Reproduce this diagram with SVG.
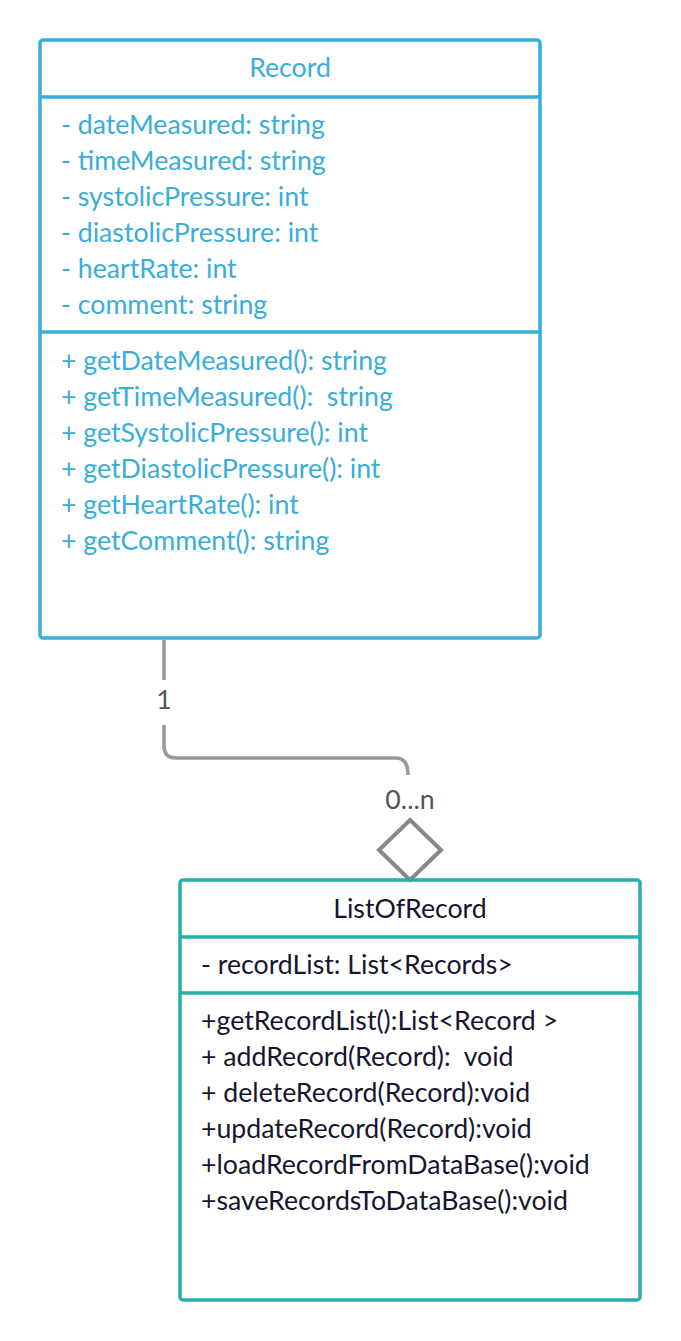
<svg xmlns="http://www.w3.org/2000/svg" width="681" height="1341" viewBox="0 0 681 1341">
<style>
.blue{fill:none;stroke:#3aadd8;stroke-width:3.5}
.teal{fill:none;stroke:#26b0a9;stroke-width:3.5}
.bt{fill:#3aadd8;font-family:Lato,"Liberation Sans",sans-serif;font-size:26.7px;white-space:pre}
.dt{fill:#161630;font-family:Lato,"Liberation Sans",sans-serif;font-size:26.7px;white-space:pre}
.lbl{fill:#555;font-family:Lato,"Liberation Sans",sans-serif;font-size:26.7px}
.conn{fill:none;stroke:#999;stroke-width:3.5}
</style>
<rect width="681" height="1341" fill="#fff"/>
<g id="connectors">
<path class="conn" d="M164,640 V680 M164,725 V746 Q164,758 176,758 H396 Q408,758 408,775"/>
<polygon points="410,820 441,850 410,880 379,850" fill="#fff" stroke="#888" stroke-width="4"/>
<text class="lbl" x="164" y="709" text-anchor="middle">1</text>
<text class="lbl" x="410" y="809" text-anchor="middle">0...n</text>
</g>
<g id="Record">
<rect class="blue" x="40" y="40" width="500" height="598" rx="3"/>
<line class="blue" x1="40" y1="97" x2="540" y2="97"/>
<line class="blue" x1="40" y1="332" x2="540" y2="332"/>
<text class="bt" x="290" y="77" text-anchor="middle">Record</text>
<text class="bt" x="61" y="134">- dateMeasured: string</text>
<text class="bt" x="61" y="170">- timeMeasured: string</text>
<text class="bt" x="61" y="206">- systolicPressure: int</text>
<text class="bt" x="61" y="242">- diastolicPressure: int</text>
<text class="bt" x="61" y="278">- heartRate: int</text>
<text class="bt" x="61" y="314">- comment: string</text>
<text class="bt" x="61" y="370">+ getDateMeasured(): string</text>
<text class="bt" x="61" y="406" xml:space="preserve">+ getTimeMeasured():  string</text>
<text class="bt" x="61" y="442">+ getSystolicPressure(): int</text>
<text class="bt" x="61" y="478">+ getDiastolicPressure(): int</text>
<text class="bt" x="61" y="514">+ getHeartRate(): int</text>
<text class="bt" x="61" y="550">+ getComment(): string</text>
</g>
<g id="ListOfRecord">
<rect class="teal" x="180" y="880" width="460" height="420" rx="3"/>
<line class="teal" x1="180" y1="937" x2="640" y2="937"/>
<line class="teal" x1="180" y1="993" x2="640" y2="993"/>
<text class="dt" x="410" y="918" text-anchor="middle">ListOfRecord</text>
<text class="dt" x="201" y="974">- recordList: List&lt;Records&gt;</text>
<text class="dt" x="201" y="1030">+getRecordList():List&lt;Record &gt;</text>
<text class="dt" x="201" y="1066" xml:space="preserve">+ addRecord(Record):  void</text>
<text class="dt" x="201" y="1102">+ deleteRecord(Record):void</text>
<text class="dt" x="201" y="1138">+updateRecord(Record):void</text>
<text class="dt" x="201" y="1174">+loadRecordFromDataBase():void</text>
<text class="dt" x="201" y="1210">+saveRecordsToDataBase():void</text>
</g>
</svg>
